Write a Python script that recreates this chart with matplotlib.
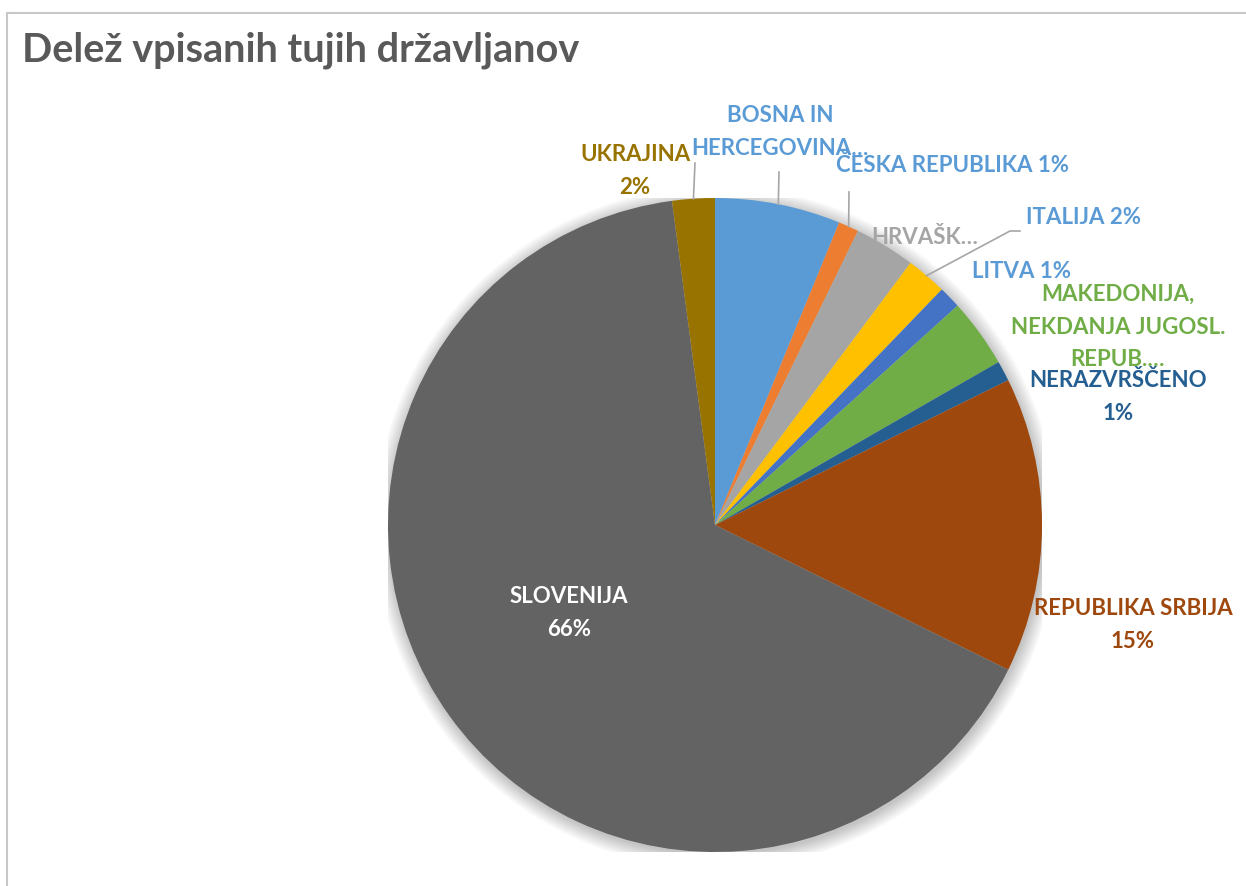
import numpy as np
import matplotlib.pyplot as plt
from matplotlib.patches import Rectangle, Circle

plt.rcParams['font.family'] = ['Lato', 'DejaVu Sans']

# podatki
countries = ['BOSNA IN HERCEGOVINA', 'ČESKA REPUBLIKA', 'HRVAŠKA', 'ITALIJA', 'LITVA',
             'MAKEDONIJA, NEKDANJA JUGOSL. REPUBLIKA', 'NERAZVRŠČENO',
             'REPUBLIKA SRBIJA', 'SLOVENIJA', 'UKRAJINA']
shares = [6.2, 1.0, 3.0, 2.0, 1.1, 3.4, 1.0, 14.6, 65.6, 2.1]
label_fmt = ['BOSNA IN\nHERCEGOVINA…', 'ČESKA REPUBLIKA {p}', 'HRVAŠK…', 'ITALIJA {p}',
             'LITVA {p}', 'MAKEDONIJA,\nNEKDANJA JUGOSL.\nREPUB.…', 'NERAZVRŠČENO\n{p}',
             'REPUBLIKA SRBIJA\n{p}', 'SLOVENIJA\n{p}', 'UKRAJINA\n{p}']

slice_colors = ['#5B9BD5', '#ED7D31', '#A5A5A5', '#FFC000', '#4472C4',
                '#70AD47', '#255E91', '#9E480E', '#636363', '#997300']
text_colors = ['#5B9BD5', '#5B9BD5', '#A5A5A5', '#5B9BD5', '#5B9BD5',
               '#70AD47', '#255E91', '#9E480E', 'white', '#997300']

W, H = 1246, 886
cx, cy, R = 715, 525, 327

# pixel -> data koordinate
def px(x, y):
    return (x - cx) / R, (cy - y) / R

# polozaji napisov (piksli) in konci vodil
label_pos = [(780, 132), (953, 165), (925, 237), (1083, 218), (1022, 272),
             (1118, 327), (1118, 397), (1133, 625), (569, 613), (635, 171)]
leader_end = {0: [(779, 172)], 1: [(849, 192)], 3: [(1010, 231), (1020, 231)], 9: [(695, 163)]}

fig = plt.figure(figsize=(W / 100, H / 100), dpi=100)
fig.add_artist(Rectangle((7 / W, -0.1), 1.2, 1 - 13 / H + 0.1, transform=fig.transFigure,
                         fill=False, edgecolor='#C8C8C8', linewidth=1.5))
fig.text(22 / W, 1 - 50 / H, 'Delež vpisanih tujih državljanov', fontsize=28.5,
         fontweight='bold', color='#595959', va='center', ha='left')

ax = fig.add_axes([(cx - R) / W, (H - cy - R) / H, 2 * R / W, 2 * R / H])

# senca
for i in range(12):
    ax.add_patch(Circle((0.004, -0.008), 1.0 + i * 0.004, color='black',
                        alpha=0.018, zorder=0, linewidth=0))

wedges, _ = ax.pie(shares, colors=slice_colors, startangle=90, counterclock=False,
                   radius=1, wedgeprops=dict(linewidth=0))
for w in wedges:
    w.set_zorder(2)
ax.set_xlim(-1, 1)
ax.set_ylim(-1, 1)
ax.set_aspect('equal')
ax.axis('off')

for i, w in enumerate(wedges):
    txt = label_fmt[i].format(p=f'{shares[i]:.0f}%')
    x, y = px(*label_pos[i])
    ax.text(x, y, txt, ha='center', va='center', fontsize=16, fontweight='bold',
            color=text_colors[i], linespacing=1.7, zorder=5)
    if i in leader_end:
        ang = np.deg2rad((w.theta1 + w.theta2) / 2)
        xs = [np.cos(ang)]
        ys = [np.sin(ang)]
        for p in leader_end[i]:
            a, b = px(*p)
            xs.append(a)
            ys.append(b)
        ax.plot(xs, ys, color='#A6A6A6', linewidth=1.2, clip_on=False, zorder=3)

fig.savefig('out.png', dpi=100)
